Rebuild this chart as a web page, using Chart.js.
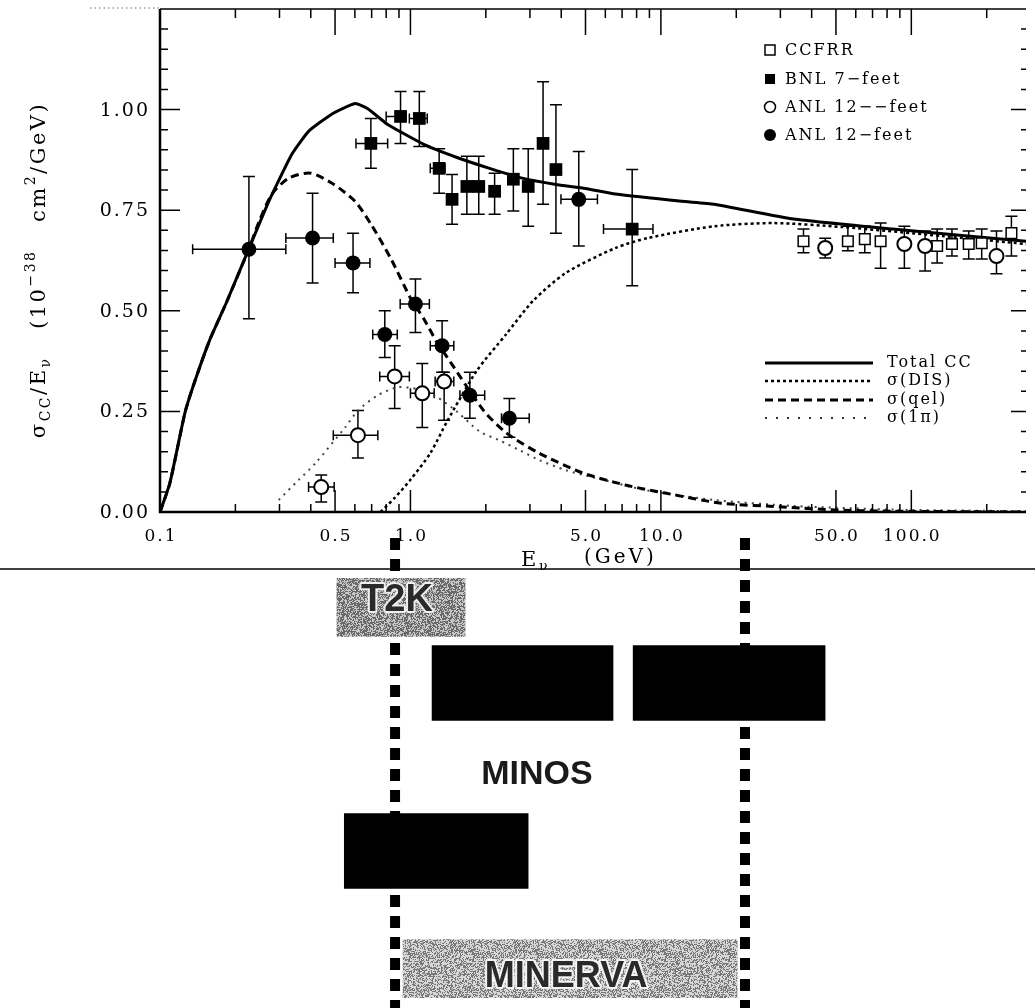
<!DOCTYPE html>
<html>
<head>
<meta charset="utf-8">
<script src="https://cdn.jsdelivr.net/npm/chart.js@4.4.1/dist/chart.umd.min.js"></script>
<style>
  html, body { margin: 0; padding: 0; background: #fff; }
  #wrap { position: relative; width: 1035px; height: 1008px; overflow: hidden; }
  #bottom { position: absolute; left: 0; top: 530px; }
  #top { position: absolute; left: 0; top: 0; }
</style>
</head>
<body>
<div id="wrap">
  <canvas id="bottom" width="1035" height="478"></canvas>
  <canvas id="top" width="1035" height="570"></canvas>
</div>
<script>
// ---- axis ranges ----
const X_MIN = 0.1, X_MAX = 287;
const Y_MIN = 0, Y_MAX = 1.25;

// ---- tick labels ----
const xTickVals = [0.1, 0.5, 1, 5, 10, 50, 100];
const xTickText = ['0.1', '0.5', '1.0', '5.0', '10.0', '50.0', '100.0'];
const yTickVals = [0, 0.25, 0.5, 0.75, 1.0];
const yTickText = ['0.00', '0.25', '0.50', '0.75', '1.00'];

// ---- theory curves (E in GeV, sigma/E) ----
const totalE = [0.1, 0.1095, 0.1256, 0.135, 0.1576, 0.184, 0.227, 0.272, 0.336, 0.392, 0.483, 0.601, 0.676, 0.811, 1.136, 1.534, 2.07, 2.82, 3.81, 5.0, 6.58, 12.1, 16.3, 33.9, 84.2, 287];
const totalS = [0, 0.072, 0.245, 0.309, 0.426, 0.52, 0.656, 0.772, 0.889, 0.946, 0.988, 1.015, 1.002, 0.963, 0.913, 0.881, 0.854, 0.829, 0.814, 0.804, 0.79, 0.772, 0.765, 0.728, 0.703, 0.673];

const qelE = [0.1, 0.1095, 0.1256, 0.135, 0.1576, 0.184, 0.227, 0.248, 0.28, 0.327, 0.399, 0.492, 0.601, 0.696, 0.833, 1.0, 1.136, 1.28, 1.40, 1.96, 2.42, 3.27, 4.88, 7.21, 10.4, 17.4, 31.8, 50, 84, 287];
const qelS = [0, 0.072, 0.245, 0.309, 0.426, 0.52, 0.656, 0.72, 0.79, 0.83, 0.842, 0.815, 0.772, 0.715, 0.631, 0.532, 0.478, 0.42, 0.385, 0.252, 0.196, 0.146, 0.097, 0.067, 0.047, 0.022, 0.012, 0.005, 0.002, 0];

const disE = [0.76, 0.865, 1.0, 1.2, 1.40, 1.84, 2.42, 3.09, 4.17, 6.58, 8.89, 16.3, 28.2, 53.3, 132, 287];
const disS = [0, 0.035, 0.08, 0.146, 0.225, 0.351, 0.443, 0.525, 0.594, 0.656, 0.681, 0.71, 0.718, 0.708, 0.686, 0.666];

const piE = [0.298, 0.357, 0.417, 0.548, 0.617, 0.74, 0.89, 1.07, 1.28, 1.53, 1.89, 2.27, 2.74, 3.27, 4.17, 5.3, 8.6, 16.3, 34, 84, 287];
const piS = [0.03, 0.079, 0.121, 0.21, 0.252, 0.29, 0.31, 0.305, 0.285, 0.25, 0.20, 0.178, 0.153, 0.129, 0.104, 0.087, 0.055, 0.03, 0.015, 0.006, 0.002];

// ---- measurements ----
// BNL 7-feet (filled squares)
const bnlE   = [0.695, 0.913, 1.085, 1.302, 1.466, 1.68, 1.874, 2.168, 2.576, 2.953, 3.385, 3.81, 7.68];
const bnlS   = [0.916, 0.983, 0.978, 0.854, 0.777, 0.809, 0.809, 0.797, 0.827, 0.809, 0.916, 0.851, 0.703];
const bnlYlo = [0.854, 0.916, 0.908, 0.792, 0.715, 0.74, 0.74, 0.74, 0.748, 0.71, 0.765, 0.693, 0.562];
const bnlYhi = [0.978, 1.045, 1.045, 0.903, 0.839, 0.884, 0.884, 0.842, 0.903, 0.903, 1.069, 1.012, 0.851];
const bnlXlo = [0.606, 0.80, 0.99, 1.2, null, null, null, null, null, null, null, null, 5.9];
const bnlXhi = [0.811, 0.96, 1.167, 1.374, null, null, null, null, null, null, null, null, 9.3];

// ANL 12-feet (filled circles)
const anlfE   = [0.2265, 0.4066, 0.59, 0.79, 1.047, 1.338, 1.727, 2.484, 4.7];
const anlfS   = [0.653, 0.681, 0.619, 0.441, 0.517, 0.413, 0.29, 0.233, 0.777];
const anlfYlo = [0.48, 0.569, 0.545, 0.384, 0.446, 0.347, 0.233, 0.186, 0.661];
const anlfYhi = [0.834, 0.792, 0.693, 0.5, 0.579, 0.475, 0.347, 0.282, 0.896];
const anlfXlo = [0.135, 0.318, 0.5, 0.707, 0.91, 1.2, 1.576, 2.31, 3.99];
const anlfXhi = [0.318, 0.492, 0.689, 0.886, 1.19, 1.49, 1.979, 2.98, 5.58];

// ANL 12-feet (open circles)
const anloE   = [0.4403, 0.617, 0.865, 1.115, 1.363, 45.3, 93.8, 113.5, 218.8];
const anloS   = [0.062, 0.191, 0.337, 0.295, 0.324, 0.656, 0.666, 0.661, 0.636];
const anloYlo = [0.025, 0.134, 0.257, 0.21, 0.228, 0.631, 0.606, 0.599, 0.592];
const anloYhi = [0.092, 0.252, 0.413, 0.369, 0.347, 0.68, 0.71, 0.698, 0.698];
const anloXlo = [0.392, 0.492, 0.754, 1.0, 1.255, null, null, null, null];
const anloXhi = [0.496, 0.741, 0.99, 1.244, 1.49, null, null, null, null];

// CCFRR (open squares)
const ccfE   = [37.1, 55.8, 65.2, 75.4, 126.8, 145.3, 169.5, 191, 251];
const ccfS   = [0.673, 0.673, 0.678, 0.673, 0.661, 0.666, 0.666, 0.668, 0.693];
const ccfYlo = [0.644, 0.649, 0.644, 0.606, 0.619, 0.636, 0.629, 0.629, 0.636];
const ccfYhi = [0.703, 0.71, 0.71, 0.718, 0.703, 0.703, 0.698, 0.703, 0.735];

// ---- experiment energy coverage (bottom panel) ----
const rows = ['T2K', 'gap1', 'MINOS', 'gap3', 'MINOS label', 'gap5', 'unlabelled', 'gap7', 'gap8', 'MINERVA'];
const t2kRange = [0.5, 1.606];
const minosRangeA = [1.189, 6.17];
const minosRangeB = [7.41, 42.5];
const blackRange = [0.535, 2.85];
const minervaRange = [0.913, 19.1];
const markerE = [0.849, 20.5];     // the two dashed vertical markers
const minosTextE = 3.2;

const SERIF = '"DejaVu Serif", "Liberation Serif", serif';
const SANS = '"Liberation Sans", Arial, sans-serif';

function pts(E, S) { return E.map((e, i) => ({ x: e, y: S[i] })); }

function pointSet(label, E, S, err, style) {
  return Object.assign({
    label, data: pts(E, S), showLine: false, borderWidth: 2,
    borderColor: '#000', backgroundColor: '#000', err
  }, style);
}

function curveSet(label, E, S, style) {
  return Object.assign({
    label, data: pts(E, S), showLine: true, pointRadius: 0,
    borderColor: '#000', tension: 0.25, fill: false
  }, style);
}

// error bars under the markers
const errorBars = {
  id: 'errorBars',
  beforeDatasetsDraw(chart) {
    const { ctx, scales: { x, y } } = chart;
    ctx.save();
    ctx.beginPath();
    ctx.rect(chart.chartArea.left, chart.chartArea.top, chart.chartArea.width, chart.chartArea.height);
    ctx.clip();
    ctx.strokeStyle = '#000';
    ctx.lineWidth = 1.5;
    chart.data.datasets.forEach(ds => {
      if (!ds.err) return;
      ds.data.forEach((p, i) => {
        const px = x.getPixelForValue(p.x), py = y.getPixelForValue(p.y);
        const e = ds.err;
        ctx.beginPath();
        if (e.ylo && e.ylo[i] != null) {
          const a = y.getPixelForValue(e.ylo[i]), b = y.getPixelForValue(e.yhi[i]);
          ctx.moveTo(px, a); ctx.lineTo(px, b);
          ctx.moveTo(px - 6, a); ctx.lineTo(px + 6, a);
          ctx.moveTo(px - 6, b); ctx.lineTo(px + 6, b);
        }
        if (e.xlo && e.xlo[i] != null) {
          const a = x.getPixelForValue(e.xlo[i]), b = x.getPixelForValue(e.xhi[i]);
          ctx.moveTo(a, py); ctx.lineTo(b, py);
          ctx.moveTo(a, py - 5); ctx.lineTo(a, py + 5);
          ctx.moveTo(b, py - 5); ctx.lineTo(b, py + 5);
        }
        ctx.stroke();
      });
    });
    ctx.restore();
  }
};

function drawRuns(ctx, runs, x, y, base, small) {
  let w = 0;
  runs.forEach(([t, k]) => { ctx.font = (k === 'n' ? base : small) + 'px ' + SERIF; w += ctx.measureText(t).width; });
  let cx = x - w / 2;
  runs.forEach(([t, k]) => {
    ctx.font = (k === 'n' ? base : small) + 'px ' + SERIF;
    const dy = k === 'sub' ? 6 : (k === 'sup' ? -9 : 0);
    ctx.fillText(t, cx, y + dy);
    cx += ctx.measureText(t).width;
  });
}

// frame, inward ticks, labels, titles, legends
const frameAndText = {
  id: 'frameAndText',
  afterDraw(chart) {
    const { ctx, chartArea: a, scales: { x, y } } = chart;
    ctx.save();
    ctx.strokeStyle = '#000';
    ctx.fillStyle = '#000';

    // dotted lead-in at top left
    ctx.setLineDash([1.5, 3]);
    ctx.lineWidth = 1;
    ctx.strokeStyle = '#666';
    ctx.beginPath(); ctx.moveTo(90, a.top - 1); ctx.lineTo(a.left, a.top - 1); ctx.stroke();
    ctx.setLineDash([]);
    ctx.strokeStyle = '#000';

    // frame
    ctx.lineWidth = 2.5;
    ctx.beginPath();
    ctx.moveTo(a.left, a.top); ctx.lineTo(a.left, a.bottom); ctx.lineTo(a.right, a.bottom);
    ctx.stroke();
    ctx.lineWidth = 1.5;
    ctx.beginPath(); ctx.moveTo(a.left, a.top); ctx.lineTo(a.right, a.top); ctx.stroke();

    // x ticks (log)
    ctx.lineWidth = 1.5;
    for (let dec = 0.1; dec < X_MAX; dec *= 10) {
      for (let m = 1; m <= 9; m++) {
        const v = +(dec * m).toPrecision(3);
        if (v <= X_MIN || v > X_MAX) continue;
        const major = (m === 1 || m === 5);
        const px = x.getPixelForValue(v);
        ctx.beginPath();
        ctx.moveTo(px, a.bottom); ctx.lineTo(px, a.bottom - (major ? 22 : 8));
        ctx.moveTo(px, a.top); ctx.lineTo(px, a.top + (major ? 26 : 9));
        ctx.stroke();
      }
    }
    // y ticks
    for (let k = 1; k < 25; k++) {
      const v = k * 0.05;
      const major = k % 5 === 0;
      const py = y.getPixelForValue(v);
      ctx.beginPath();
      ctx.moveTo(a.left, py); ctx.lineTo(a.left + (major ? 20 : 8), py);
      ctx.moveTo(a.right, py); ctx.lineTo(a.right - (major ? 15 : 5), py);
      ctx.stroke();
    }

    ctx.letterSpacing = '2px';
    // y tick labels
    ctx.font = '19px ' + SERIF;
    ctx.textAlign = 'right';
    ctx.textBaseline = 'middle';
    yTickVals.forEach((v, i) => ctx.fillText(yTickText[i], 150, y.getPixelForValue(v) + 1));
    // x tick labels
    ctx.font = '17px ' + SERIF;
    ctx.textAlign = 'center';
    xTickVals.forEach((v, i) => ctx.fillText(xTickText[i], x.getPixelForValue(v) + 1, 537));

    // x title
    ctx.textAlign = 'left';
    ctx.textBaseline = 'alphabetic';
    ctx.font = '21px ' + SERIF;
    ctx.fillText('E', 521, 566);
    ctx.font = '14px ' + SERIF;
    ctx.fillText('ν', 539, 571);
    ctx.font = '20px ' + SERIF;
    ctx.letterSpacing = '3px';
    ctx.fillText('(GeV)', 584, 563);

    // y title
    ctx.letterSpacing = '2.5px';
    ctx.save();
    ctx.translate(40, 270);
    ctx.rotate(-Math.PI / 2);
    ctx.textBaseline = 'middle';
    drawRuns(ctx, [['σ', 'n'], ['CC', 'sub'], ['/E', 'n'], ['ν', 'sub'], ['   (10', 'n'], ['−38', 'sup'],
      ['   cm', 'n'], ['2', 'sup'], ['/GeV)', 'n']], 0, 0, 21, 14);
    ctx.restore();

    // marker legend
    const lx = 770, rowsY = [50, 79, 107, 135];
    const names = ['CCFRR', 'BNL 7−feet', 'ANL 12−−feet', 'ANL 12−feet'];
    ctx.font = '16px ' + SERIF;
    ctx.textBaseline = 'middle';
    ctx.letterSpacing = '2px';
    rowsY.forEach((ry, i) => {
      ctx.lineWidth = 1.5;
      ctx.beginPath();
      if (i === 0) { ctx.fillStyle = '#fff'; ctx.rect(lx - 5, ry - 5, 10, 10); ctx.fill(); ctx.stroke(); }
      if (i === 1) { ctx.fillStyle = '#000'; ctx.rect(lx - 5, ry - 5, 10, 10); ctx.fill(); }
      if (i === 2) { ctx.fillStyle = '#fff'; ctx.arc(lx, ry, 5.5, 0, Math.PI * 2); ctx.fill(); ctx.stroke(); }
      if (i === 3) { ctx.fillStyle = '#000'; ctx.arc(lx, ry, 6, 0, Math.PI * 2); ctx.fill(); }
      ctx.fillStyle = '#000';
      ctx.fillText(names[i], lx + 15, ry + 1);
    });

    // line legend
    const l2 = [363, 381, 400, 418];
    const l2names = ['Total CC', 'σ(DIS)', 'σ(qel)', 'σ(1π)'];
    const l2styles = [
      { w: 3, d: [], c: '#000' },
      { w: 2.5, d: [3, 3], c: '#000' },
      { w: 3, d: [8, 5], c: '#000' },
      { w: 2, d: [2, 9], c: '#333' }
    ];
    l2.forEach((ry, i) => {
      const s = l2styles[i];
      ctx.lineWidth = s.w; ctx.setLineDash(s.d); ctx.strokeStyle = s.c;
      ctx.beginPath(); ctx.moveTo(765, ry); ctx.lineTo(873, ry); ctx.stroke();
      ctx.setLineDash([]);
      ctx.fillStyle = '#000';
      ctx.fillText(l2names[i], 887, ry);
    });
    ctx.letterSpacing = '0px';
    ctx.restore();
  }
};

new Chart(document.getElementById('top'), {
  type: 'scatter',
  data: {
    datasets: [
      pointSet('BNL 7-feet', bnlE, bnlS, { ylo: bnlYlo, yhi: bnlYhi, xlo: bnlXlo, xhi: bnlXhi },
        { pointStyle: 'rect', pointRadius: 9, borderWidth: 0 }),
      pointSet('ANL 12-feet filled', anlfE, anlfS, { ylo: anlfYlo, yhi: anlfYhi, xlo: anlfXlo, xhi: anlfXhi },
        { pointStyle: 'circle', pointRadius: 7.5, borderWidth: 0 }),
      pointSet('ANL 12-feet open', anloE, anloS, { ylo: anloYlo, yhi: anloYhi, xlo: anloXlo, xhi: anloXhi },
        { pointStyle: 'circle', pointRadius: 7, backgroundColor: '#fff', borderWidth: 2 }),
      pointSet('CCFRR', ccfE, ccfS, { ylo: ccfYlo, yhi: ccfYhi },
        { pointStyle: 'rect', pointRadius: 7.5, backgroundColor: '#fff', borderWidth: 1.5 }),
      curveSet('Total CC', totalE, totalS, { borderWidth: 3, tension: 0.15 }),
      curveSet('sigma(DIS)', disE, disS, { borderWidth: 2.5, borderDash: [3, 3] }),
      curveSet('sigma(qel)', qelE, qelS, { borderWidth: 3, borderDash: [8, 5] }),
      curveSet('sigma(1pi)', piE, piS, { borderWidth: 2, borderDash: [2, 5], borderColor: '#444' })
    ]
  },
  options: {
    responsive: false,
    animation: false,
    layout: { padding: { left: 160, top: 7, right: 0, bottom: 58 } },
    plugins: { legend: { display: false }, tooltip: { enabled: false } },
    scales: {
      x: { type: 'logarithmic', min: X_MIN, max: X_MAX, display: false },
      y: { type: 'linear', min: Y_MIN, max: Y_MAX, display: false }
    }
  },
  plugins: [errorBars, frameAndText]
});

// ---------------- bottom panel ----------------
function speckle(dark, light, share, seed) {
  const c = document.createElement('canvas');
  c.width = 64; c.height = 64;
  const g = c.getContext('2d');
  const img = g.createImageData(64, 64);
  for (let i = 0; i < 64 * 64; i++) {
    const h = Math.sin((i + seed) * 12.9898) * 43758.5453;
    const f = h - Math.floor(h);
    const v = f < share ? dark : light;
    img.data[i * 4] = v; img.data[i * 4 + 1] = v; img.data[i * 4 + 2] = v; img.data[i * 4 + 3] = 255;
  }
  g.putImageData(img, 0, 0);
  return g.createPattern(c, 'repeat');
}
const grayA = speckle(105, 200, 0.55, 7);
const grayB = speckle(120, 215, 0.45, 91);

function bar(label, range, row, color) {
  return {
    label, data: [{ x: range, y: row }], backgroundColor: color,
    borderWidth: 0, barThickness: 75, grouped: false
  };
}

const bottomDecor = {
  id: 'bottomDecor',
  beforeDatasetsDraw(chart) {
    const { ctx, scales: { x } } = chart;
    ctx.save();
    // separator line
    ctx.strokeStyle = '#000';
    ctx.lineWidth = 1.5;
    ctx.beginPath(); ctx.moveTo(0, 39); ctx.lineTo(chart.width, 39); ctx.stroke();
    // dashed markers
    ctx.lineWidth = 10;
    ctx.setLineDash([12, 9]);
    markerE.forEach(e => {
      const px = x.getPixelForValue(e);
      ctx.beginPath(); ctx.moveTo(px, 8); ctx.lineTo(px, chart.height); ctx.stroke();
    });
    ctx.restore();
  },
  afterDatasetsDraw(chart) {
    const { ctx, scales: { x, y } } = chart;
    ctx.save();
    ctx.textAlign = 'center';
    ctx.textBaseline = 'middle';
    ctx.lineJoin = 'round';
    const mid = r => Math.sqrt(r[0] * r[1]);
    const labels = [
      ['T2K', mid(t2kRange), 'T2K', '#2a2a2a', true, 38, 2],
      ['MINOS', minosTextE, 'MINOS label', '#1a1a1a', false, 34, 8],
      ['MINERVA', mid(minervaRange), 'MINERVA', '#2a2a2a', true, 36, 0]
    ];
    labels.forEach(([t, e, row, col, halo, size, dy]) => {
      ctx.font = 'bold ' + size + 'px ' + SANS;
      const px = x.getPixelForValue(e) - 4, py = y.getPixelForValue(row) + dy;
      if (halo) { ctx.strokeStyle = 'rgba(255,255,255,0.85)'; ctx.lineWidth = 4; ctx.strokeText(t, px, py); }
      ctx.fillStyle = col;
      ctx.fillText(t, px, py);
    });
    ctx.restore();
  }
};

new Chart(document.getElementById('bottom'), {
  type: 'bar',
  data: {
    labels: rows,
    datasets: [
      bar('T2K', t2kRange, 'T2K', grayA),
      bar('MINOS low', minosRangeA, 'MINOS', '#000'),
      bar('MINOS high', minosRangeB, 'MINOS', '#000'),
      bar('unlabelled', blackRange, 'unlabelled', '#000'),
      bar('MINERVA', minervaRange, 'MINERVA', grayB)
    ]
  },
  options: {
    indexAxis: 'y',
    responsive: false,
    animation: false,
    layout: { padding: { left: 160, top: 48, right: 0, bottom: 10 } },
    plugins: { legend: { display: false }, tooltip: { enabled: false } },
    scales: {
      x: { type: 'logarithmic', min: X_MIN, max: X_MAX, display: false },
      y: { type: 'category', display: false }
    }
  },
  plugins: [bottomDecor]
});
</script>
</body>
</html>
